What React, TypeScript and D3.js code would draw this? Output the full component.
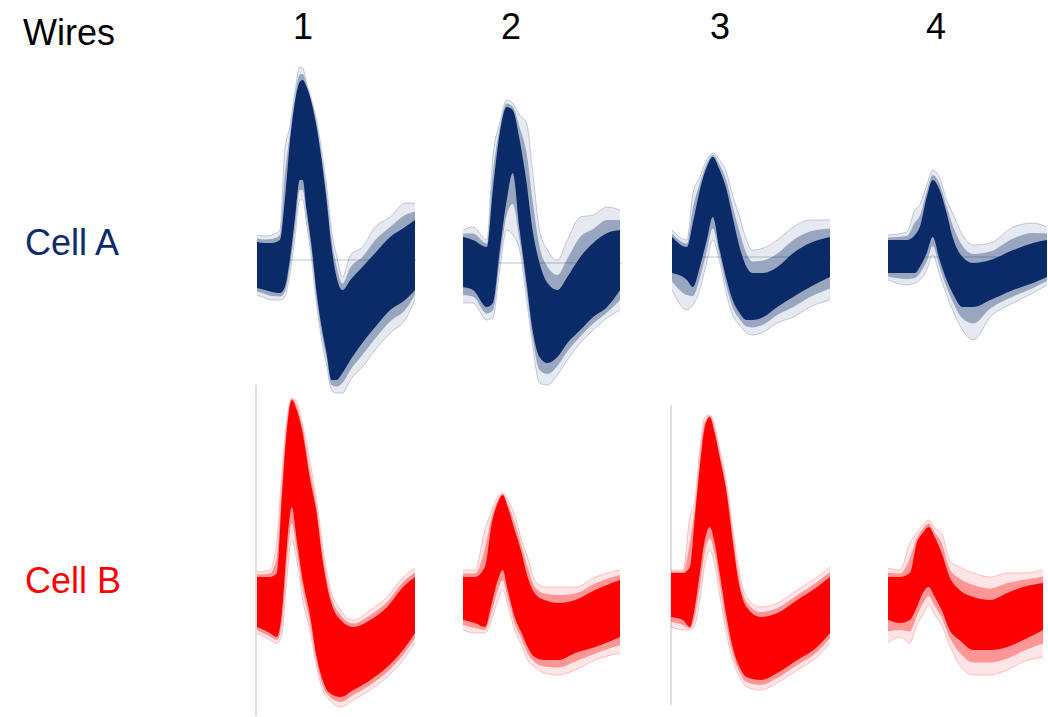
import React from "react";
import * as d3 from "d3";

// Column / row labels
const wireLabels = ["1", "2", "3", "4"];
const cellLabels = ["Cell A", "Cell B"];

// Each row: [time (ms), outer high, core high, core low, outer low] in µV relative to baseline
const cellAWire1: number[][] = [
  [0, 25, 18, -28, -35], [0.08, 24, 17, -30, -38], [0.15, 25, 17, -32, -40], [0.23, 30, 20, -33, -40],
  [0.28, 110, 60, -27, -37], [0.33, 133, 117, 0, -15], [0.38, 167, 157, 40, 20], [0.43, 193, 178, 80, 60],
  [0.46, 192, 180, 80, 60], [0.5, 177, 173, 50, 35], [0.55, 160, 157, 13, 0], [0.6, 140, 133, -33, -45],
  [0.65, 110, 100, -67, -80], [0.7, 75, 60, -93, -105], [0.75, 30, 13, -120, -130], [0.8, 5, -17, -120, -133],
  [0.86, -17, -30, -113, -133], [0.94, 5, -20, -100, -120], [1.06, 13, -7, -83, -107], [1.19, 33, 7, -67, -90],
  [1.34, 43, 23, -50, -73], [1.49, 57, 33, -40, -60], [1.59, 57, 40, -30, -40],
];
const cellAWire2: number[][] = [
  [0, 33, 26, -24, -40], [0.1, 36, 23, -27, -40], [0.24, 23, 16, -44, -57], [0.3, 106, 73, -40, -55],
  [0.37, 140, 130, 13, -7], [0.44, 163, 156, 63, 33], [0.5, 160, 153, 90, 28], [0.57, 148, 123, 33, 13],
  [0.64, 140, 80, -20, -37], [0.7, 93, 33, -67, -82], [0.77, 33, 0, -94, -120], [0.85, 13, -20, -100, -122],
  [0.95, 3, -27, -94, -112], [1.05, 23, -14, -80, -97], [1.18, 46, 6, -67, -80], [1.31, 48, 20, -54, -67],
  [1.45, 56, 30, -44, -55], [1.58, 53, 33, -27, -47],
];
const cellAWire3: number[][] = [
  [0, 27, 20, -16, -33], [0.15, 17, 10, -23, -53], [0.21, 64, 34, -30, -48], [0.28, 80, 67, -10, -33],
  [0.35, 97, 90, 17, -5], [0.41, 104, 100, 40, 17], [0.48, 97, 87, 7, -5], [0.55, 84, 67, -23, -38],
  [0.61, 62, 40, -43, -58], [0.68, 40, 10, -56, -68], [0.75, 17, -10, -63, -76], [0.81, 7, -16, -63, -78],
  [0.92, 9, -16, -60, -75], [1.06, 17, -10, -50, -66], [1.22, 30, 4, -40, -60], [1.39, 37, 14, -30, -50],
  [1.59, 37, 20, -20, -43],
];
const cellAWire4: number[][] = [
  [0, 22, 17, -16, -23], [0.19, 25, 17, -16, -28], [0.27, 47, 22, -16, -26], [0.32, 52, 30, -10, -23],
  [0.39, 72, 60, 4, -13], [0.45, 87, 77, 20, 2], [0.52, 79, 67, -3, -18], [0.59, 57, 44, -23, -38],
  [0.65, 44, 20, -36, -53], [0.75, 22, 0, -50, -73], [0.86, 12, -6, -50, -83], [1.03, 14, -3, -43, -60],
  [1.26, 30, 7, -33, -46], [1.46, 34, 14, -26, -36], [1.6, 30, 17, -20, -28],
];
const cellBWire1: number[][] = [
  [0, 28, 23, -27, -33], [0.13, 30, 23, -33, -40], [0.2, 60, 27, -37, -43], [0.25, 127, 103, -13, -35],
  [0.3, 180, 170, 53, 20], [0.35, 202, 200, 93, 60], [0.4, 198, 190, 60, 40], [0.46, 175, 167, 20, 0],
  [0.53, 140, 123, -13, -30], [0.6, 100, 87, -57, -67], [0.66, 55, 40, -80, -90], [0.73, 15, 3, -93, -100],
  [0.84, -10, -20, -97, -107], [0.97, -20, -27, -90, -100], [1.14, -10, -20, -80, -90], [1.31, 3, -7, -67, -77],
  [1.47, 23, 13, -50, -60], [1.59, 32, 23, -33, -43],
];
const cellBWire2: number[][] = [
  [0, 30, 23, -20, -30], [0.12, 30, 23, -23, -33], [0.22, 70, 33, -27, -33], [0.29, 90, 77, -3, -20],
  [0.35, 103, 97, 20, 0], [0.4, 107, 105, 30, 10], [0.45, 100, 93, 10, -5], [0.52, 85, 70, -17, -30],
  [0.59, 60, 47, -33, -45], [0.65, 43, 23, -47, -60], [0.72, 20, 7, -57, -67], [0.82, 13, 0, -60, -73],
  [0.96, 13, -3, -60, -75], [1.13, 13, 0, -53, -70], [1.33, 23, 10, -47, -60], [1.58, 30, 20, -37, -53],
];
const cellBWire3: number[][] = [
  [0, 30, 27, -17, -27], [0.12, 30, 27, -20, -30], [0.19, 83, 33, -27, -30], [0.24, 100, 83, -7, -25],
  [0.29, 150, 133, 27, 0], [0.34, 183, 173, 60, 35], [0.39, 185, 183, 73, 50], [0.44, 175, 167, 57, 35],
  [0.49, 150, 143, 27, 5], [0.56, 117, 107, -17, -35], [0.62, 73, 60, -47, -60], [0.69, 27, 13, -67, -77],
  [0.76, 3, -7, -77, -87], [0.9, -7, -17, -80, -90], [1.07, -3, -13, -73, -83], [1.27, 10, 0, -60, -70],
  [1.47, 23, 13, -47, -57], [1.6, 33, 23, -33, -43],
];
const cellBWire4: number[][] = [
  [0, 32, 23, -20, -43], [0.12, 30, 23, -23, -37], [0.22, 57, 27, -20, -43], [0.29, 67, 57, -7, -25],
  [0.35, 75, 67, 7, -15], [0.41, 80, 73, 13, -5], [0.47, 72, 63, 3, -15], [0.54, 67, 47, -10, -25],
  [0.62, 40, 23, -30, -45], [0.72, 33, 10, -40, -65], [0.86, 27, 3, -50, -75], [1.03, 23, 0, -50, -75],
  [1.2, 27, 7, -47, -70], [1.36, 27, 13, -40, -62], [1.56, 30, 17, -30, -57],
];

const rows = [
  { label: cellLabels[0], color: "#0a2a68", text: "#0d2b6b", panels: [cellAWire1, cellAWire2, cellAWire3, cellAWire4], lefts: [257, 463, 672, 888], bases: [260, 263, 257, 257] },
  { label: cellLabels[1], color: "#ff0000", text: "#ff0000", panels: [cellBWire1, cellBWire2, cellBWire3, cellBWire4], lefts: [257, 463, 671, 888], bases: [600, 600, 600, 600] },
];

const headerX = [303, 511, 720, 936];
const PANEL_W = 159;
const FONT = "'Liberation Sans', Arial, Helvetica, sans-serif";

function Panel({ data, left, base, color, showBaseline }: { data: number[][]; left: number; base: number; color: string; showBaseline: boolean }) {
  const x = d3.scaleLinear().domain([0, 1.6]).range([left, left + PANEL_W]);
  const y = d3.scaleLinear().domain([0, 100]).range([base, base - 100]);
  const curve = d3.curveMonotoneX;
  const outer = d3.area<number[]>().x((d) => x(d[0])).y0((d) => y(d[4])).y1((d) => y(d[1])).curve(curve);
  const mid = d3
    .area<number[]>()
    .x((d) => x(d[0]))
    .y0((d) => y((d[3] + d[4]) / 2))
    .y1((d) => y((d[1] + d[2]) / 2))
    .curve(curve);
  const core = d3.area<number[]>().x((d) => x(d[0])).y0((d) => y(d[3])).y1((d) => y(d[2])).curve(curve);
  const hi = d3.line<number[]>().x((d) => x(d[0])).y((d) => y(d[1])).curve(curve);
  const lo = d3.line<number[]>().x((d) => x(d[0])).y((d) => y(d[4])).curve(curve);
  return (
    <g>
      {showBaseline && (
        <line x1={x(0)} x2={x(1.6)} y1={y(0)} y2={y(0)} stroke="#aab4c8" strokeWidth={1} strokeOpacity={0.8} />
      )}
      <path d={outer(data) || ""} fill={color} fillOpacity={0.1} />
      <path d={hi(data) || ""} fill="none" stroke={color} strokeOpacity={0.28} strokeWidth={0.8} />
      <path d={lo(data) || ""} fill="none" stroke={color} strokeOpacity={0.28} strokeWidth={0.8} />
      <path d={mid(data) || ""} fill={color} fillOpacity={0.35} />
      <path d={core(data) || ""} fill={color} />
    </g>
  );
}

export default function App() {
  return (
    <svg width={1048} height={717} style={{ position: "absolute", left: 0, top: 0, background: "#fff" }} fontFamily={FONT}>
      <rect width={1048} height={717} fill="#fff" />
      <text x={23} y={45} fontSize={36} fill="#000">Wires</text>
      {wireLabels.map((w, i) => (
        <text key={w} x={headerX[i]} y={39} fontSize={36} textAnchor="middle" fill="#000">{w}</text>
      ))}
      {/* faint vertical axis lines on red row */}
      <line x1={256} x2={256} y1={385} y2={716} stroke="#d6d6d6" strokeWidth={1.5} />
      <line x1={671} x2={671} y1={405} y2={705} stroke="#d6d6d6" strokeWidth={1.5} />
      {rows.map((r, ri) => (
        <g key={r.label}>
          <text x={25} y={ri === 0 ? 255 : 593} fontSize={36} fill={r.text}>{r.label}</text>
          {r.panels.map((p, pi) => (
            <Panel key={pi} data={p} left={r.lefts[pi]} base={r.bases[pi]} color={r.color} showBaseline={ri === 0} />
          ))}
        </g>
      ))}
    </svg>
  );
}
